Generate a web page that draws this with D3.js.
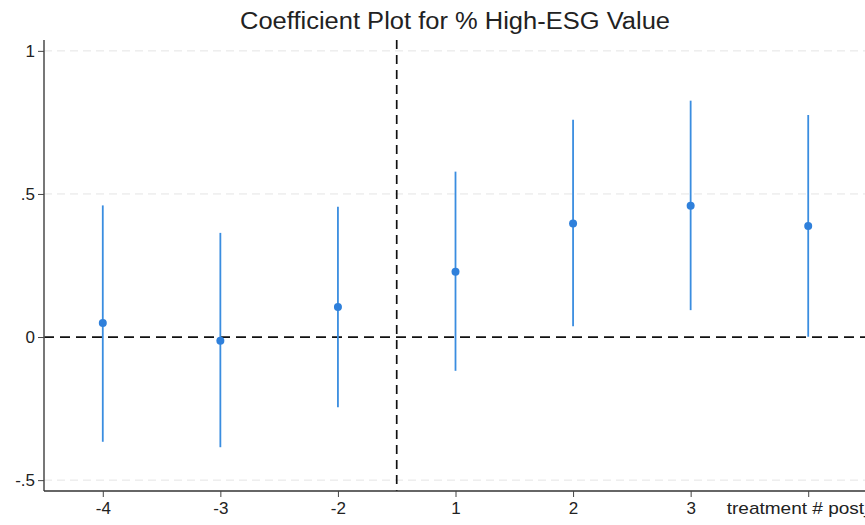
<!DOCTYPE html>
<html>
<head>
<meta charset="utf-8">
<script src="https://d3js.org/d3.v7.min.js"></script>
<style>
  body { margin: 0; background: #fff; }
  text { font-family: "Liberation Sans", Arial, sans-serif; fill: #222; }
</style>
</head>
<body>
<svg width="865" height="525"></svg>
<script>
// coefficient estimates and 95% CI
var periods = ['-4', '-3', '-2', '1', '2', '3', 'treatment # post_'];
var coef = [0.049, -0.013, 0.105, 0.228, 0.397, 0.459, 0.388];
var ciLow = [-0.366, -0.385, -0.245, -0.118, 0.038, 0.094, 0.001];
var ciHigh = [0.46, 0.364, 0.455, 0.578, 0.759, 0.826, 0.776];
var yTicks = [-0.5, 0, 0.5, 1];
var yTickLabels = ['-.5', '0', '.5', '1'];

var svg = d3.select('svg');
var blue = '#2f80db';

var x = d3.scaleLinear().domain([-0.5, 6.5]).range([44, 867]);
var y = d3.scaleLinear().domain([-0.538, 1.038]).range([491, 40]);

var data = periods.map(function(p, i) {
  return { label: p, i: i, b: coef[i], lo: ciLow[i], hi: ciHigh[i] };
});

// light dashed gridlines
svg.append('g').selectAll('line')
  .data(yTicks.filter(function(d) { return d != 0; })).enter().append('line')
  .attr('x1', 44).attr('x2', 865)
  .attr('y1', function(d) { return y(d); })
  .attr('y2', function(d) { return y(d); })
  .attr('stroke', '#e4e4e4')
  .attr('stroke-width', 1)
  .attr('stroke-dasharray', '8,5');

// reference lines
svg.append('line')
  .attr('x1', 44).attr('x2', 865)
  .attr('y1', y(0)).attr('y2', y(0))
  .attr('stroke', '#111')
  .attr('stroke-width', 1.7)
  .attr('stroke-dasharray', '10,6');

svg.append('line')
  .attr('x1', x(2.5)).attr('x2', x(2.5))
  .attr('y1', y(1.038)).attr('y2', y(-0.538))
  .attr('stroke', '#111')
  .attr('stroke-width', 1.7)
  .attr('stroke-dasharray', '9,6');

// CI spikes
svg.append('g').selectAll('line')
  .data(data).enter().append('line')
  .attr('x1', function(d) { return x(d.i); })
  .attr('x2', function(d) { return x(d.i); })
  .attr('y1', function(d) { return y(d.lo); })
  .attr('y2', function(d) { return y(d.hi); })
  .attr('stroke', '#3a8de0')
  .attr('stroke-width', 1.8);

// point estimates
svg.append('g').selectAll('circle')
  .data(data).enter().append('circle')
  .attr('cx', function(d) { return x(d.i); })
  .attr('cy', function(d) { return y(d.b); })
  .attr('r', 4)
  .attr('fill', blue);

// y axis
var yAxis = svg.append('g')
  .attr('transform', 'translate(44,0)')
  .call(d3.axisLeft(y).tickValues(yTicks)
    .tickFormat(function(d, i) { return yTickLabels[i]; })
    .tickSize(6).tickPadding(3));
yAxis.select('.domain').attr('stroke', '#555').attr('stroke-width', 1.6).attr('d', 'M0,40V491');
yAxis.selectAll('.tick line').attr('stroke', '#444');
yAxis.selectAll('text').style('font-size', '17px').attr('fill', '#222');

// x axis
var xAxis = svg.append('g')
  .attr('transform', 'translate(0,491)')
  .call(d3.axisBottom(x).tickValues(d3.range(periods.length))
    .tickFormat(function(d) { return periods[d]; })
    .tickSize(6).tickPadding(5));
xAxis.select('.domain').attr('stroke', '#333').attr('stroke-width', 1.6).attr('d', 'M44,0H867');
xAxis.selectAll('.tick line').attr('stroke', '#444');
xAxis.selectAll('text').style('font-size', '17px').attr('fill', '#222');
xAxis.selectAll('.tick text')
  .filter(function(d) { return d == periods.length - 1; })
  .attr('text-anchor', 'start')
  .attr('dx', -82)
  .attr('textLength', 148)
  .attr('lengthAdjust', 'spacingAndGlyphs');

// title
svg.append('text')
  .attr('x', 455)
  .attr('y', 29)
  .attr('text-anchor', 'middle')
  .attr('textLength', 430)
  .attr('lengthAdjust', 'spacingAndGlyphs')
  .style('font-size', '23px')
  .text('Coefficient Plot for % High-ESG Value');
</script>
</body>
</html>
